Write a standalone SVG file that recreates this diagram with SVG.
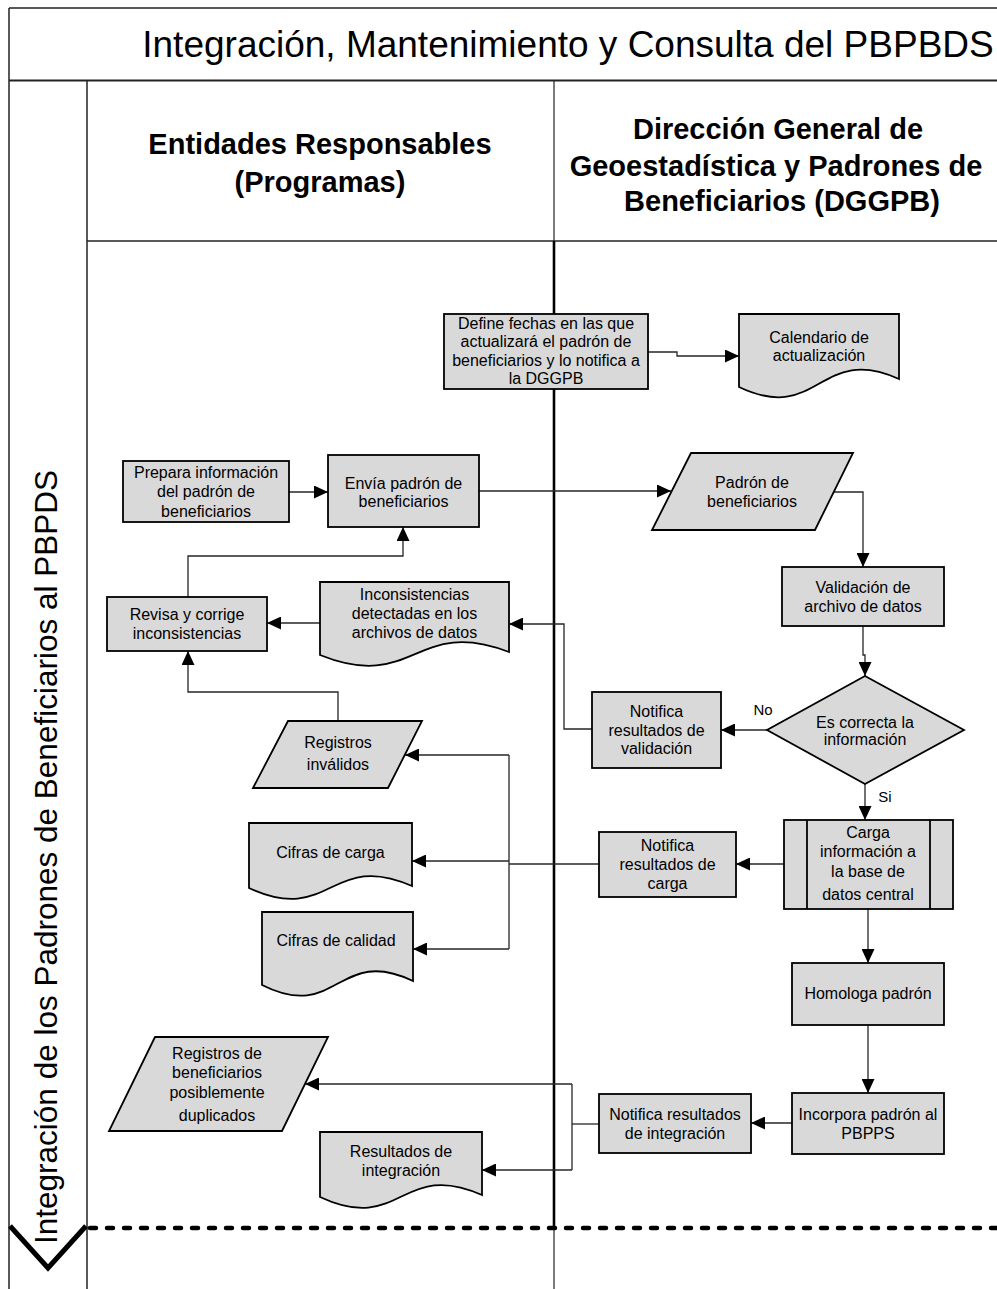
<svg xmlns="http://www.w3.org/2000/svg" width="997" height="1289" viewBox="0 0 997 1289">
<defs>
<style>
.frame{fill:none;stroke:#222;stroke-width:1.5}
.node{fill:#d9d9d9;stroke:#000;stroke-width:1.8}
.t{font-family:"Liberation Sans",Arial,sans-serif;font-size:16px;fill:#000;text-anchor:middle}
.hdr{font-family:"Liberation Sans",Arial,sans-serif;font-size:29px;font-weight:bold;fill:#000;text-anchor:middle}
.ttl{font-family:"Liberation Sans",Arial,sans-serif;font-size:37px;fill:#000;text-anchor:middle}
.lane{font-family:"Liberation Sans",Arial,sans-serif;font-size:31.5px;fill:#000;text-anchor:middle}
.c{fill:none;stroke:#262626;stroke-width:1.3}
.ca{fill:none;stroke:#262626;stroke-width:1.3;marker-end:url(#ah)}
</style>
<marker id="ah" markerUnits="userSpaceOnUse" markerWidth="14" markerHeight="13" refX="14" refY="6.5" orient="auto">
<path d="M0,0 L14,6.5 L0,13 Z" fill="#000"/>
</marker>
</defs>

<g id="frame">
<line class="frame" x1="9" y1="8" x2="997" y2="8"/>
<line class="frame" x1="9" y1="8" x2="9" y2="1289"/>
<line class="frame" x1="9" y1="80.5" x2="997" y2="80.5" style="stroke-width:2"/>
<line class="frame" x1="87" y1="80" x2="87" y2="1289"/>
<line class="frame" x1="87" y1="241" x2="997" y2="241"/>
<line class="frame" x1="554" y1="80" x2="554" y2="241" style="stroke-width:1.2"/>
<line x1="554" y1="241" x2="554" y2="1228" stroke="#000" stroke-width="2.6"/>
<line class="frame" x1="554" y1="1228" x2="554" y2="1289" style="stroke-width:1.2"/>
<line x1="90" y1="1228" x2="997" y2="1228" stroke="#000" stroke-width="4.5" stroke-linecap="round" stroke-dasharray="6 11"/>
<polyline points="10,1226 48,1268 86,1226" fill="none" stroke="#000" stroke-width="5"/>
</g>

<g id="title">
<text class="ttl" x="568" y="57">Integración, Mantenimiento y Consulta del PBPBDS</text>
</g>

<g id="lane-label">
<text class="lane" transform="translate(57,857) rotate(-90)" x="0" y="0">Integración de los Padrones de Beneficiarios al PBPDS</text>
</g>

<g id="header-left">
<text class="hdr" x="320" y="153.5">Entidades Responsables</text>
<text class="hdr" x="320" y="191.5">(Programas)</text>
</g>
<g id="header-right">
<text class="hdr" x="778" y="138.5">Dirección General de</text>
<text class="hdr" x="776" y="175.5">Geoestadística y Padrones de</text>
<text class="hdr" x="782" y="210.5">Beneficiarios (DGGPB)</text>
</g>

<g id="connectors">
<path class="ca" d="M648,352 H677 V356 H739"/>
<path class="ca" d="M289,492 H328"/>
<path class="ca" d="M479,491 H671"/>
<path class="ca" d="M834,492 H863 V567"/>
<path class="ca" d="M863,626 V655 H865 V676"/>
<path class="ca" d="M767,730 H721"/>
<path class="ca" d="M592,729 H564 V624 H509"/>
<path class="ca" d="M320,623 H267"/>
<path class="ca" d="M188,597 V556 H403 V527"/>
<path class="ca" d="M338,721 V692 H188 V651"/>
<path class="ca" d="M865,784 V820"/>
<path class="ca" d="M784,864 H736"/>
<path class="c" d="M599,864 H509"/>
<path class="c" d="M509,755 V949"/>
<path class="ca" d="M509,755 H405"/>
<path class="ca" d="M509,861 H412"/>
<path class="ca" d="M509,949 H413"/>
<path class="ca" d="M868,909 V963"/>
<path class="ca" d="M868,1025 V1093"/>
<path class="ca" d="M792,1123 H751"/>
<path class="c" d="M599,1124 H572"/>
<path class="c" d="M572,1084 V1170"/>
<path class="ca" d="M572,1084 H305"/>
<path class="ca" d="M572,1170 H482"/>
<text class="t" x="763" y="714.5" style="font-size:15px">No</text>
<text class="t" x="885" y="802" style="font-size:15px">Si</text>
</g>

<g id="define">
<rect class="node" x="444" y="314" width="204" height="75"/>
<text class="t" x="546" y="328.5">Define fechas en las que</text>
<text class="t" x="546" y="347">actualizará el padrón de</text>
<text class="t" x="546" y="365.5">beneficiarios y lo notifica a</text>
<text class="t" x="546" y="384">la DGGPB</text>
</g>

<g id="calendario">
<path class="node" d="M739,314 H899 V379 C819,343 819,425 739,387 Z"/>
<text class="t" x="819" y="342.5">Calendario de</text>
<text class="t" x="819" y="360.5">actualización</text>
</g>

<g id="prepara">
<rect class="node" x="123" y="461" width="166" height="61"/>
<text class="t" x="206" y="477.5">Prepara información</text>
<text class="t" x="206" y="497">del padrón de</text>
<text class="t" x="206" y="516.5">beneficiarios</text>
</g>

<g id="envia">
<rect class="node" x="328" y="455" width="151" height="72"/>
<text class="t" x="403.5" y="488.5">Envía padrón de</text>
<text class="t" x="403.5" y="507">beneficiarios</text>
</g>

<g id="padron">
<polygon class="node" points="691,453 853,453 815,530 652,530"/>
<text class="t" x="752" y="487.5">Padrón de</text>
<text class="t" x="752" y="506.5">beneficiarios</text>
</g>

<g id="validacion">
<rect class="node" x="782" y="567" width="162" height="59"/>
<text class="t" x="863" y="592.5">Validación de</text>
<text class="t" x="863" y="611.5">archivo de datos</text>
</g>

<g id="revisa">
<rect class="node" x="107" y="597" width="160" height="54"/>
<text class="t" x="187" y="619.5">Revisa y corrige</text>
<text class="t" x="187" y="638.5">inconsistencias</text>
</g>

<g id="inconsistencias">
<path class="node" d="M320,582 H509 V652 C414.5,616 414.5,693 320,655 Z"/>
<text class="t" x="414.5" y="599.5">Inconsistencias</text>
<text class="t" x="414.5" y="618.5">detectadas en los</text>
<text class="t" x="414.5" y="638">archivos de datos</text>
</g>

<g id="decision">
<polygon class="node" points="865,676 964,730 865,784 767,730"/>
<text class="t" x="865" y="727.5">Es correcta la</text>
<text class="t" x="865" y="745">información</text>
</g>

<g id="notifica-validacion">
<rect class="node" x="592" y="692" width="129" height="76"/>
<text class="t" x="656.5" y="716.5">Notifica</text>
<text class="t" x="656.5" y="735.5">resultados de</text>
<text class="t" x="656.5" y="754">validación</text>
</g>

<g id="registros-invalidos">
<polygon class="node" points="288,721 422,721 388,788 253,788"/>
<text class="t" x="338" y="747.5">Registros</text>
<text class="t" x="338" y="769.5">inválidos</text>
</g>

<g id="carga">
<rect class="node" x="784" y="820" width="169" height="89"/>
<line x1="807" y1="820" x2="807" y2="909" stroke="#000" stroke-width="1.8"/>
<line x1="930" y1="820" x2="930" y2="909" stroke="#000" stroke-width="1.8"/>
<text class="t" x="868" y="837.5">Carga</text>
<text class="t" x="868" y="856.5">información a</text>
<text class="t" x="868" y="876.5">la base de</text>
<text class="t" x="868" y="899.5">datos central</text>
</g>

<g id="notifica-carga">
<rect class="node" x="599" y="832" width="137" height="65"/>
<text class="t" x="667.5" y="850.5">Notifica</text>
<text class="t" x="667.5" y="869.5">resultados de</text>
<text class="t" x="667.5" y="888.5">carga</text>
</g>

<g id="cifras-carga">
<path class="node" d="M249,823 H412 V886 C330.5,850 330.5,926 249,888 Z"/>
<text class="t" x="330.5" y="857.5">Cifras de carga</text>
</g>

<g id="cifras-calidad">
<path class="node" d="M262,912 H413 V981 C337.5,945 337.5,1023 262,985 Z"/>
<text class="t" x="336" y="945.5">Cifras de calidad</text>
</g>

<g id="homologa">
<rect class="node" x="792" y="963" width="152" height="62"/>
<text class="t" x="868" y="998.5">Homologa padrón</text>
</g>

<g id="incorpora">
<rect class="node" x="792" y="1093" width="152" height="61"/>
<text class="t" x="868" y="1119.5">Incorpora padrón al</text>
<text class="t" x="868" y="1138.5">PBPPS</text>
</g>

<g id="notifica-integracion">
<rect class="node" x="599" y="1094" width="152" height="59"/>
<text class="t" x="675" y="1119.5">Notifica resultados</text>
<text class="t" x="675" y="1138.5">de integración</text>
</g>

<g id="registros-duplicados">
<polygon class="node" points="155,1037 328,1037 282,1131 109,1131"/>
<text class="t" x="217" y="1058.5">Registros de</text>
<text class="t" x="217" y="1077.5">beneficiarios</text>
<text class="t" x="217" y="1097.5">posiblemente</text>
<text class="t" x="217" y="1120.5">duplicados</text>
</g>

<g id="resultados-integracion">
<path class="node" d="M320,1132 H482 V1195 C401,1159 401,1235 320,1197 Z"/>
<text class="t" x="401" y="1156.5">Resultados de</text>
<text class="t" x="401" y="1175.5">integración</text>
</g>
</svg>
